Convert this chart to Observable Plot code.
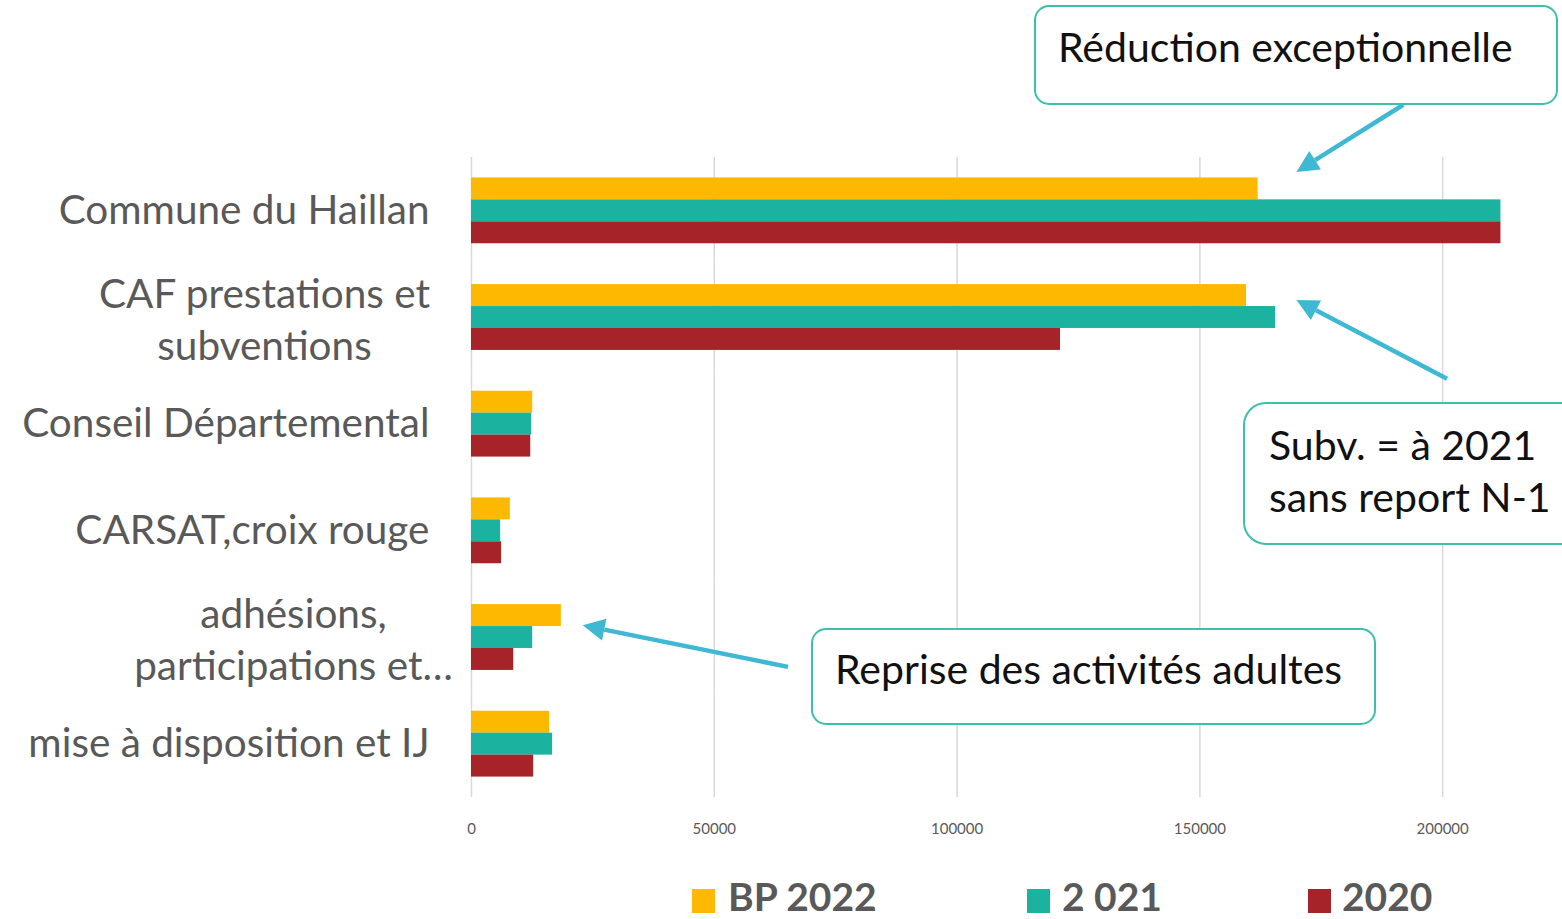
<!DOCTYPE html>
<html>
<head>
<meta charset="utf-8">
<script src="https://cdn.jsdelivr.net/npm/d3@7"></script>
<script src="https://cdn.jsdelivr.net/npm/@observablehq/plot@0.6"></script>
<style>
  html, body { margin: 0; padding: 0; background: #fff; }
  #wrap { position: relative; width: 1562px; height: 919px; overflow: hidden; font-family: Lato, "Open Sans", sans-serif; }
  #legend { position: absolute; left: 0; top: 870px; width: 1562px; height: 49px; }
  .sw { position: absolute; top: 19px; width: 23px; height: 24px; }
  .lab { position: absolute; top: 5px; font-size: 39px; font-weight: bold; color: #595959; white-space: nowrap; line-height: 42px; }
</style>
</head>
<body>
<div id="wrap"><div id="legend"></div></div>
<script>
const categories = ["Commune du Haillan", "CAF prestations et\nsubventions", "Conseil Départemental", "CARSAT,croix rouge", "adhésions,\nparticipations et…", "mise à disposition et IJ"];
const series = ["BP 2022", "2 021", "2020"];
const bp2022 = [162000, 159600, 12600, 8000, 18500, 16100];
const y2021 = [212000, 165600, 12400, 6000, 12600, 16700];
const y2020 = [212000, 121300, 12200, 6200, 8700, 12800];
const xTicks = [0, 50000, 100000, 150000, 200000];
const colors = ["#FDB800", "#1BB39F", "#A6232A"];

const annotations = [
  {lines: ["Réduction exceptionnelle"]},
  {lines: ["Subv. = à 2021", "sans report N-1"]},
  {lines: ["Reprise des activités adultes"]}
];
// arrows: tail and head in data terms (value, category, fraction of band)
const arrows = [
  {from: [192000, categories[0], -0.49], to: [170000, categories[0], 0.14]},
  {from: [201000, categories[1], 1.08], to: [170000, categories[1], 0.34]},
  {from: [65300, categories[4], 0.78], to: [23000, categories[4], 0.39]}
];

const valuesBySeries = [bp2022, y2021, y2020];
const table = [];
categories.forEach((c, i) => series.forEach((s, j) => table.push({category: c, series: s, value: valuesBySeries[j][i]})));

const singleCats = categories.filter(c => !c.includes("\n"));
const FONT = "Lato, 'Open Sans', sans-serif";

const plot = Plot.plot({
  width: 1562,
  height: 870,
  marginLeft: 471,
  marginRight: 47,
  marginTop: 157,
  marginBottom: 73,
  style: {fontFamily: FONT, background: "transparent"},
  x: {domain: [0, 215000], axis: null, label: null},
  fy: {domain: categories, padding: 0, round: false, axis: null},
  y: {domain: series, paddingInner: 0, paddingOuter: 0.93, round: false, axis: null},
  color: {domain: series, range: colors},
  marks: [
    Plot.gridX(xTicks, {stroke: "#d9d9d9", strokeOpacity: 1, strokeWidth: 1.5}),
    Plot.barX(table, {fy: "category", y: "series", x: "value", fill: "series"}),
    Plot.axisX({ticks: xTicks, tickSize: 0, tickPadding: 26, fontSize: 15, fill: "#595959", label: null, tickFormat: d => String(d)}),
    Plot.text(singleCats, {fy: d => d, text: d => d, frameAnchor: "left", dx: -42, textAnchor: "end", fontSize: 40.5, fill: "#595959"}),
    Plot.text([categories[1]], {fy: d => d, text: d => d, frameAnchor: "left", dx: -207, textAnchor: "middle", fontSize: 40.5, lineHeight: 1.29, fill: "#595959"}),
    Plot.text([categories[4]], {fy: d => d, text: d => d, frameAnchor: "left", dx: -178, textAnchor: "middle", fontSize: 40.5, lineHeight: 1.29, fill: "#595959"})
  ]
});

document.getElementById("wrap").prepend(plot);

// annotations
const svg = d3.select(plot);
const xs = plot.scale("x");
const fys = plot.scale("fy");
const pos = ([v, c, f]) => [xs.apply(v), fys.apply(c) + f * fys.bandwidth];

const boxLayout = [
  {x: 1035, y: 6, w: 522, h: 98, rx: 14, tx: 1058, ty: [62]},
  {x: 1244, y: 403, w: 340, h: 141, rx: 22, tx: 1269, ty: [460, 512]},
  {x: 812, y: 629, w: 563, h: 95, rx: 14, tx: 835, ty: [684]}
];
const ann = svg.append("g").attr("text-anchor", "start");
annotations.forEach((a, i) => {
  const b = boxLayout[i];
  ann.append("rect").attr("x", b.x).attr("y", b.y).attr("width", b.w).attr("height", b.h)
    .attr("rx", b.rx).attr("fill", "#fff").attr("stroke", "#3CBFAB").attr("stroke-width", 2);
  a.lines.forEach((l, k) => {
    ann.append("text").attr("x", b.tx).attr("y", b.ty[k]).text(l)
      .attr("text-anchor", "start")
      .attr("font-size", 41).attr("fill", "#111").attr("font-family", FONT);
  });
});

const arrowColor = "#3FB8D3";
arrows.forEach(a => {
  const [x1, y1] = pos(a.from);
  const [x2, y2] = pos(a.to);
  const ang = Math.atan2(y2 - y1, x2 - x1);
  const hl = 22, hw = 11;
  const bx = x2 - hl * Math.cos(ang), by = y2 - hl * Math.sin(ang);
  ann.append("line").attr("x1", x1).attr("y1", y1).attr("x2", bx).attr("y2", by)
    .attr("stroke", arrowColor).attr("stroke-width", 4.5);
  const px = -Math.sin(ang), py = Math.cos(ang);
  ann.append("path").attr("d", `M${x2},${y2}L${bx + hw * px},${by + hw * py}L${bx - hw * px},${by - hw * py}Z`)
    .attr("fill", arrowColor);
});

// legend
const legendPos = [{sw: 692, lab: 728}, {sw: 1027, lab: 1062}, {sw: 1308, lab: 1342}];
const legend = document.getElementById("legend");
series.forEach((s, i) => {
  const sw = document.createElement("div");
  sw.className = "sw"; sw.style.left = legendPos[i].sw + "px"; sw.style.background = colors[i];
  const lab = document.createElement("div");
  lab.className = "lab"; lab.style.left = legendPos[i].lab + "px"; lab.textContent = s;
  legend.appendChild(sw); legend.appendChild(lab);
});
</script>
</body>
</html>
